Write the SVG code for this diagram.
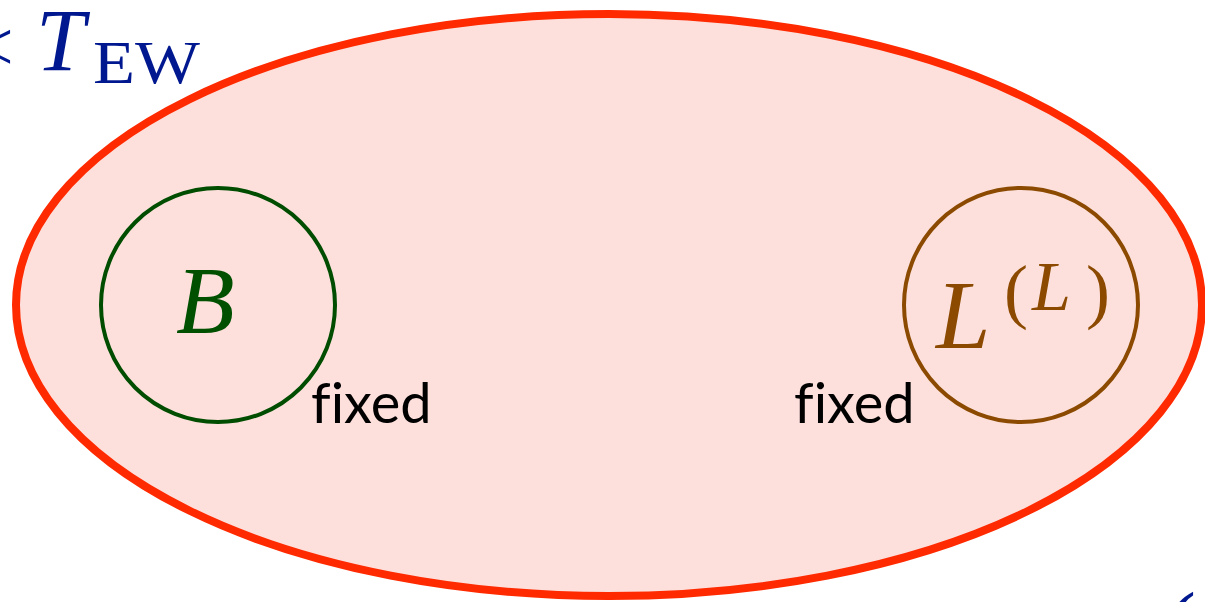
<svg xmlns="http://www.w3.org/2000/svg" width="1205" height="602" viewBox="0 0 1205 602">
<style>
.math{font-family:"Liberation Serif","DejaVu Serif",serif;font-style:italic}
.rm{font-family:"Liberation Serif","DejaVu Serif",serif}
.fixed{font-family:Lato,"Open Sans",sans-serif;font-size:56px;fill:#000;font-variant-ligatures:none}
.blue{fill:#00188f}
</style>
<rect width="1205" height="602" fill="#fff"/>
<g id="region">
<ellipse cx="609" cy="305" rx="593" ry="291" fill="#fde0dc" stroke="#ff2a00" stroke-width="8"/>
</g>
<g id="temp-label">
<text class="rm blue" x="-26" y="70" font-size="70">&lt;</text>
<text class="math blue" x="36" y="70" font-size="88">T</text>
<text class="rm blue" x="93" y="83" font-size="62" textLength="107" lengthAdjust="spacingAndGlyphs">EW</text>
</g>
<g id="node-B">
<circle cx="218" cy="305" r="117" fill="none" stroke="#004d00" stroke-width="4"/>
<text class="math" x="176" y="333" font-size="96" fill="#005000">B</text>
<text class="fixed" x="311" y="423">fixed</text>
</g>
<g id="node-L">
<circle cx="1021" cy="305" r="117" fill="none" stroke="#8b4a00" stroke-width="4"/>
<text class="math" x="936" y="348" font-size="98" fill="#8b4a00">L</text>
<text class="rm" x="1004" y="315" font-size="72" fill="#8b4a00">(</text>
<text class="math" x="1032" y="310" font-size="70" fill="#8b4a00">L</text>
<text class="rm" x="1086" y="315" font-size="72" fill="#8b4a00">)</text>
<text class="fixed" x="794" y="423">fixed</text>
</g>
<g id="connectors"></g>
<g id="edge-text">
<text class="rm blue" x="1166" y="655" font-size="90">(</text>
</g>
</svg>
